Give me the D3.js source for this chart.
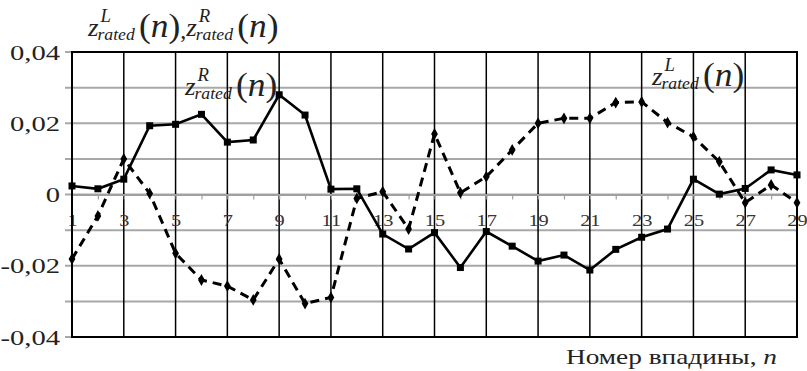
<html>
<head>
<script src="https://cdnjs.cloudflare.com/ajax/libs/d3/7.9.0/d3.min.js"></script>
<style>body { margin: 0; background: #fff; }</style>
</head>
<body>
<script>
// trough numbers and the two rated profiles
const wells = [1, 2, 3, 4, 5, 6, 7, 8, 9, 10, 11, 12, 13, 14, 15, 16, 17, 18, 19, 20, 21, 22, 23, 24, 25, 26, 27, 28, 29]
const wellLabels = [1, 3, 5, 7, 9, 11, 13, 15, 17, 19, 21, 23, 25, 27, 29]
const zR = [0.0024, 0.0016, 0.0043, 0.0193, 0.0197, 0.0225, 0.0147, 0.0153, 0.028, 0.0223, 0.0015, 0.0016, -0.0111, -0.0153, -0.0107, -0.0205, -0.0104, -0.0145, -0.0187, -0.017, -0.0212, -0.0154, -0.012, -0.0097, 0.0043, 0.0001, 0.0017, 0.0069, 0.0055]
const zL = [-0.0181, -0.006, 0.01, 0.0003, -0.0165, -0.024, -0.0257, -0.0296, -0.0181, -0.0306, -0.0289, -0.0011, 0.0008, -0.0097, 0.017, 0.0005, 0.005, 0.0125, 0.02, 0.0214, 0.0214, 0.0258, 0.026, 0.0202, 0.0162, 0.0092, -0.0023, 0.0027, -0.0023]
const yTicks = [-0.04, -0.02, 0, 0.02, 0.04]
const yGrid = [-0.04, -0.03, -0.02, -0.01, 0, 0.01, 0.02, 0.03, 0.04]

const width = 807, height = 371
const margin = { top: 52, right: 10, bottom: 34, left: 72 }
const serif = 'Liberation Serif'

const svg = d3.select('body').append('svg')
  .attr('width', width)
  .attr('height', height)

const x = d3.scalePoint(wells, [margin.left, width - margin.right])
const y = d3.scaleLinear([-0.04, 0.04], [height - margin.bottom, margin.top])

const ru = d3.formatLocale({ decimal: ',', thousands: ' ', grouping: [3], currency: ['', ''], minus: '-' })
const fmt = ru.format('.2f')

// the scan is wider than tall, so text is stretched sideways around its anchor
function hStretch(sel, k) {
  sel.each(function () {
    const ax = +this.getAttribute('x') || 0
    d3.select(this).attr('transform', `translate(${ax * (1 - k)},0) scale(${k},1)`)
  })
}

// horizontal grid, a bit past the left edge
svg.append('g')
  .selectAll('line')
  .data(yGrid)
  .enter()
  .append('line')
  .attr('x1', margin.left - 7)
  .attr('x2', width - margin.right)
  .attr('y1', d => y(d))
  .attr('y2', d => y(d))
  .attr('stroke', '#a8a8a8')
  .attr('stroke-width', 2)

// vertical lines at odd troughs
svg.append('g')
  .selectAll('line')
  .data(wellLabels.slice(1, -1))
  .enter()
  .append('line')
  .attr('x1', d => x(d))
  .attr('x2', d => x(d))
  .attr('y1', margin.top)
  .attr('y2', height - margin.bottom)
  .attr('stroke', '#000')
  .attr('stroke-width', 1.5)

// x axis along zero
const xAxis = svg.append('g')
  .attr('transform', `translate(0,${y(0)})`)
  .call(d3.axisBottom(x)
    .tickValues(wells)
    .tickSizeInner(5)
    .tickSizeOuter(0)
    .tickPadding(14)
    .tickFormat(d => wellLabels.includes(d) ? d : ''))
xAxis.select('.domain').attr('stroke', '#a0a0a0').attr('stroke-width', 2)
xAxis.selectAll('.tick line').attr('stroke', '#a0a0a0').attr('stroke-width', 1.2)
xAxis.selectAll('.tick text')
  .style('font-family', serif)
  .style('font-size', '17px')
  .attr('fill', '#3a3530')
  .call(hStretch, 1.2)

// y labels
const yAxis = svg.append('g')
  .attr('transform', `translate(${margin.left},0)`)
  .call(d3.axisLeft(y)
    .tickValues(yTicks)
    .tickSize(0)
    .tickPadding(12)
    .tickFormat(d => d === 0 ? '0' : fmt(d)))
yAxis.select('.domain').remove()
yAxis.selectAll('.tick text')
  .style('font-family', serif)
  .style('font-size', '22px')
  .attr('fill', '#222')
  .call(hStretch, 1.3)

// frame
svg.append('rect')
  .attr('x', margin.left)
  .attr('y', margin.top)
  .attr('width', width - margin.left - margin.right)
  .attr('height', height - margin.top - margin.bottom)
  .attr('fill', 'none')
  .attr('stroke', '#000')
  .attr('stroke-width', 2)

const line = d3.line()
  .x((d, i) => x(wells[i]))
  .y(d => y(d))

// left profile, dashed with diamonds
svg.append('path')
  .datum(zL)
  .attr('d', line)
  .attr('fill', 'none')
  .attr('stroke', '#000')
  .attr('stroke-width', 3)
  .attr('stroke-dasharray', '9,6')
svg.append('g')
  .selectAll('path')
  .data(zL)
  .enter()
  .append('path')
  .attr('d', d3.symbol(d3.symbolDiamond, 40))
  .attr('transform', (d, i) => `translate(${x(wells[i])},${y(d)})`)
  .attr('fill', '#000')

// right profile, solid with squares
svg.append('path')
  .datum(zR)
  .attr('d', line)
  .attr('fill', 'none')
  .attr('stroke', '#000')
  .attr('stroke-width', 2.6)
svg.append('g')
  .selectAll('rect')
  .data(zR)
  .enter()
  .append('rect')
  .attr('x', (d, i) => x(wells[i]) - 3.5)
  .attr('y', d => y(d) - 3.5)
  .attr('width', 7)
  .attr('height', 7)
  .attr('fill', '#000')

function zLabel(x0, y0, sup, k) {
  const g = svg.append('g').attr('fill', '#222')
  const z = g.append('text')
    .attr('x', x0).attr('y', y0)
    .style('font-family', serif).style('font-size', '26px').style('font-style', 'italic')
    .text('z')
  let cx = x0 + z.node().getComputedTextLength() + 1
  g.append('text')
    .attr('x', cx + 1).attr('y', y0 - 14)
    .style('font-family', serif).style('font-size', '18px').style('font-style', 'italic')
    .text(sup)
  const sub = g.append('text')
    .attr('x', cx - 2).attr('y', y0 + 4)
    .style('font-family', serif).style('font-size', '17px').style('font-style', 'italic')
    .text('rated')
  cx += sub.node().getComputedTextLength() + 2
  const p = g.append('text')
    .attr('x', cx).attr('y', y0 + 1)
    .style('font-family', serif).style('font-size', '34px')
  p.append('tspan').text('(')
  p.append('tspan').style('font-style', 'italic').text('n')
  p.append('tspan').text(')')
  const end = cx + p.node().getComputedTextLength()
  g.attr('transform', `translate(${x0 * (1 - k)},0) scale(${k},1)`)
  return x0 + (end - x0) * k
}

// title over the axis
const end1 = zLabel(88, 36, 'L', 1.04)
svg.append('text').attr('x', end1).attr('y', 38)
  .style('font-family', serif).style('font-size', '24px').attr('fill', '#222').text(',')
zLabel(end1 + 6, 36, 'R', 1.04)

// inline series labels
zLabel(185, 95, 'R', 1.04)
zLabel(652, 85, 'L', 1.04)

// x axis title
const xt = svg.append('text')
  .attr('x', 777)
  .attr('y', 364)
  .attr('text-anchor', 'end')
  .style('font-family', serif)
  .style('font-size', '21px')
  .attr('fill', '#222')
xt.append('tspan').text('Номер впадины, ')
xt.append('tspan').style('font-style', 'italic').text('n')
xt.call(hStretch, 1.3)
</script>
</body>
</html>
